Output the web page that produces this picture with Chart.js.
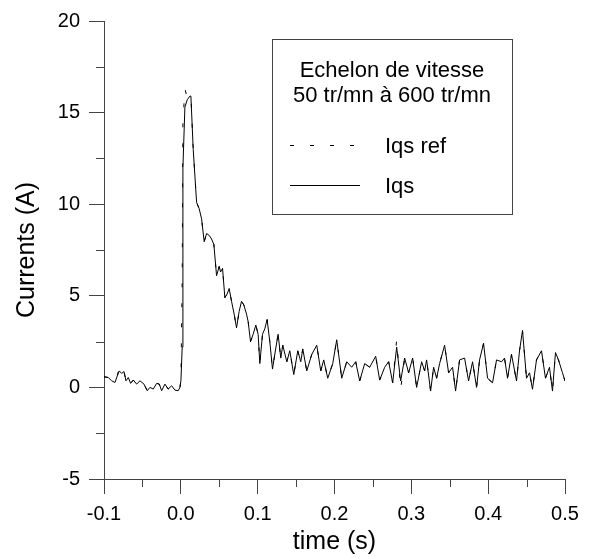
<!DOCTYPE html>
<html>
<head>
<meta charset="utf-8">
<title>Iqs step response</title>
<script src="https://cdn.jsdelivr.net/npm/chart.js@4"></script>
<style>
  html, body { margin: 0; padding: 0; background: #fff; }
  #wrap { width: 590px; height: 559px; }
</style>
</head>
<body>
<div id="wrap"><canvas id="currentChart" width="590" height="559"></canvas></div>
<script>
/* ---- data ---- */
const times = [
  -0.1000, -0.0944, -0.0900, -0.0857, -0.0827, -0.0801, -0.0770, -0.0740, -0.0714, -0.0684,
  -0.0653, -0.0619, -0.0575, -0.0532, -0.0480, -0.0437, -0.0402, -0.0359, -0.0315, -0.0281,
  -0.0250, -0.0207, -0.0164, -0.0120, -0.0077, -0.0034, -0.0012, 0.0001, 0.0018, 0.0027,
  0.0053, 0.0083, 0.0118, 0.0131, 0.0161, 0.0205, 0.0239, 0.0270, 0.0304, 0.0335,
  0.0369, 0.0400, 0.0430, 0.0465, 0.0499, 0.0517, 0.0543, 0.0573, 0.0603, 0.0629,
  0.0660, 0.0694, 0.0725, 0.0759, 0.0790, 0.0820, 0.0855, 0.0876, 0.0907, 0.0941,
  0.0976, 0.1006, 0.1028, 0.1063, 0.1093, 0.1123, 0.1158, 0.1193, 0.1236, 0.1266,
  0.1301, 0.1327, 0.1379, 0.1418, 0.1470, 0.1522, 0.1561, 0.1587, 0.1639, 0.1704,
  0.1769, 0.1821, 0.1860, 0.1912, 0.1977, 0.2029, 0.2094, 0.2159, 0.2224, 0.2276,
  0.2328, 0.2393, 0.2458, 0.2536, 0.2588, 0.2653, 0.2705, 0.2757, 0.2809, 0.2861,
  0.2913, 0.2965, 0.3017, 0.3069, 0.3134, 0.3173, 0.3199, 0.3251, 0.3290, 0.3329,
  0.3368, 0.3433, 0.3485, 0.3537, 0.3576, 0.3628, 0.3693, 0.3745, 0.3797, 0.3849,
  0.3888, 0.3940, 0.3992, 0.4057, 0.4109, 0.4174, 0.4213, 0.4252, 0.4304, 0.4369,
  0.4408, 0.4447, 0.4499, 0.4538, 0.4577, 0.4629, 0.4694, 0.4746, 0.4798, 0.4837,
  0.4876, 0.4915, 0.4967, 0.5000
];

const iqs = [
  0.58, 0.54, 0.36, 0.27, 0.63, 0.90, 0.76, 0.87, 0.36, 0.54,
  0.22, 0.40, 0.18, 0.36, 0.18, -0.18, 0.00, -0.09, 0.22, 0.18,
  -0.18, 0.18, -0.09, 0.09, -0.15, -0.18, 0.00, 0.36, 2.2, 12.0,
  15.3, 15.7, 15.9, 15.9, 13.0, 10.1, 9.75, 9.2, 7.95, 8.4,
  8.3, 8.1, 7.8, 6.1, 6.6, 6.3, 6.5, 4.9, 5.1, 5.4,
  4.7, 4.0, 3.25, 4.15, 4.7, 4.5, 4.0, 3.6, 2.5, 2.9,
  3.4, 2.9, 1.3, 2.9, 3.2, 3.7, 2.5, 1.0, 2.15, 2.9,
  1.6, 2.3, 1.4, 2.0, 0.7, 2.0, 1.4, 2.1, 0.9, 1.8,
  2.3, 0.9, 1.5, 0.5, 1.3, 2.6, 0.5, 1.4, 1.1, 1.4,
  0.35, 1.3, 1.1, 1.7, 0.4, 1.1, 1.4, 0.25, 2.2, 0.35,
  1.6, 0.8, 1.6, 0.0, 1.4, 0.9, 1.5, -0.2, 1.1, 0.5,
  1.3, 2.3, 0.8, 1.1, -0.2, 1.5, 1.6, 0.35, 1.4, 0.0,
  1.5, 2.4, 0.5, 0.25, 1.5, 1.4, 1.6, 0.5, 1.8, 0.35,
  2.0, 3.1, 0.5, 0.8, -0.1, 1.5, 2.0, 0.5, 1.1, -0.2,
  1.9, 1.5, 0.8, 0.35
];

// reference current: follows Iqs, differs at the step and a few spots
const iqsRef = [
  0.58, 0.54, 0.36, 0.27, 0.63, 1.10, 0.76, 0.87, 0.36, 0.54,
  0.22, 0.40, 0.18, 0.36, 0.18, -0.18, 0.00, -0.09, 0.22, 0.18,
  -0.18, 0.18, -0.09, 0.09, -0.15, -0.18, 0.00, 0.36, 6.0, 14.5,
  16.3, 15.8, 15.9, 15.9, 13.0, 10.1, 9.75, 9.2, 7.95, 8.4,
  8.3, 8.1, 7.8, 6.1, 6.6, 6.3, 6.5, 4.9, 5.1, 5.4,
  4.7, 4.0, 3.25, 4.15, 4.7, 4.5, 4.0, 3.6, 2.5, 2.9,
  3.4, 2.9, 1.3, 2.9, 3.2, 3.7, 2.5, 1.0, 2.15, 2.9,
  1.6, 2.3, 1.4, 2.0, 0.7, 2.0, 1.4, 2.1, 0.9, 1.8,
  2.3, 0.9, 1.5, 0.5, 1.3, 2.6, 0.5, 1.4, 1.1, 1.4,
  0.35, 1.3, 1.1, 1.7, 0.4, 1.1, 1.4, 0.25, 2.6, -0.1,
  1.6, 0.8, 1.6, 0.0, 1.4, 0.9, 1.5, -0.2, 1.1, 0.5,
  1.3, 2.3, 0.8, 1.1, -0.2, 1.5, 1.6, 0.35, 1.4, 0.0,
  1.5, 2.4, 0.5, 0.25, 1.5, 1.4, 1.6, 0.5, 1.8, 0.35,
  2.0, 3.1, 0.5, 0.8, -0.1, 1.5, 2.0, 0.5, 1.1, -0.2,
  1.9, 1.5, 0.8, 0.35
];

const xTicks = [-0.1, 0.0, 0.1, 0.2, 0.3, 0.4, 0.5];
const xMinorTicks = [-0.05, 0.05, 0.15, 0.25, 0.35, 0.45];
const yTicks = [-5, 0, 5, 10, 15, 20];
const yMinorTicks = [-2.5, 2.5, 7.5, 12.5, 17.5];
const legendTitle = ["Echelon de vitesse", "50 tr/mn à 600 tr/mn"];

const FONT = '"Liberation Sans", Arial, Helvetica, sans-serif';
const AXIS_COLOR = "#444";

Chart.defaults.font.family = FONT;
Chart.defaults.color = "#000";

function toPoints(ys) {
  return times.map((t, i) => ({ x: t, y: ys[i] }));
}

/* short minor ticks, drawn from the scales */
const minorTicks = {
  id: "minorTicks",
  afterDraw(chart) {
    const { ctx, scales: { x, y } } = chart;
    ctx.save();
    ctx.strokeStyle = AXIS_COLOR;
    ctx.lineWidth = 1;
    ctx.beginPath();
    xMinorTicks.forEach(v => {
      const px = Math.round(x.getPixelForValue(v)) + 0.5;
      ctx.moveTo(px, y.bottom);
      ctx.lineTo(px, y.bottom + 8);
    });
    yMinorTicks.forEach(v => {
      const py = Math.round(y.getPixelForValue(v)) + 0.5;
      ctx.moveTo(x.left, py);
      ctx.lineTo(x.left - 8, py);
    });
    ctx.stroke();
    ctx.restore();
  }
};

/* framed legend with a two-line title */
const boxLegend = {
  id: "boxLegend",
  afterDraw(chart) {
    const ctx = chart.ctx;
    const left = 272, top = 39, w = 240, h = 175;
    ctx.save();
    ctx.strokeStyle = AXIS_COLOR;
    ctx.lineWidth = 1;
    ctx.strokeRect(left + 0.5, top + 0.5, w, h);

    ctx.fillStyle = "#000";
    ctx.font = "22px " + FONT;
    ctx.textAlign = "center";
    ctx.textBaseline = "alphabetic";
    legendTitle.forEach((line, i) => ctx.fillText(line, left + w / 2, top + 38 + i * 25));

    ctx.textAlign = "left";
    chart.data.datasets.forEach((ds, i) => {
      const yy = top + 106 + i * 40;
      ctx.beginPath();
      ctx.setLineDash(ds.borderDash || []);
      ctx.strokeStyle = ds.borderColor;
      ctx.moveTo(left + 18, yy + 0.5);
      ctx.lineTo(left + 88, yy + 0.5);
      ctx.stroke();
      ctx.setLineDash([]);
      ctx.fillText(ds.label, left + 113, yy + 8);
    });
    ctx.restore();
  }
};

new Chart(document.getElementById("currentChart"), {
  type: "line",
  data: {
    datasets: [
      {
        label: "Iqs ref",
        data: toPoints(iqsRef),
        borderColor: "#000",
        borderWidth: 1,
        borderDash: [4, 16],
        pointRadius: 0,
        tension: 0
      },
      {
        label: "Iqs",
        data: toPoints(iqs),
        borderColor: "#000",
        borderWidth: 1,
        pointRadius: 0,
        tension: 0
      }
    ]
  },
  options: {
    responsive: false,
    animation: false,
    layout: { padding: { top: 18, right: 25, left: 0, bottom: 0 } },
    plugins: { legend: { display: false }, tooltip: { enabled: false } },
    scales: {
      x: {
        type: "linear",
        min: -0.1,
        max: 0.5,
        afterBuildTicks: s => { s.ticks = xTicks.map(v => ({ value: v })); },
        afterFit: s => { s.height = 80; },
        ticks: {
          font: { size: 20 },
          color: "#000",
          padding: 8,
          maxRotation: 0,
          callback: v => v.toFixed(1)
        },
        grid: { drawOnChartArea: false, tickLength: 15, color: AXIS_COLOR },
        border: { color: AXIS_COLOR, width: 1 },
        title: {
          display: true,
          text: "time (s)",
          font: { size: 25 },
          color: "#000",
          padding: { top: 0, bottom: 2 }
        }
      },
      y: {
        min: -5,
        max: 20,
        afterBuildTicks: s => { s.ticks = yTicks.map(v => ({ value: v })); },
        afterFit: s => { s.width = 104; },
        ticks: {
          font: { size: 20 },
          color: "#000",
          padding: 9,
          callback: v => String(v)
        },
        grid: { drawOnChartArea: false, tickLength: 15, color: AXIS_COLOR },
        border: { color: AXIS_COLOR, width: 1 },
        title: {
          display: true,
          text: "Currents (A)",
          font: { size: 25 },
          color: "#000",
          padding: { top: 12, bottom: 0 }
        }
      }
    }
  },
  plugins: [minorTicks, boxLegend]
});
</script>
</body>
</html>
